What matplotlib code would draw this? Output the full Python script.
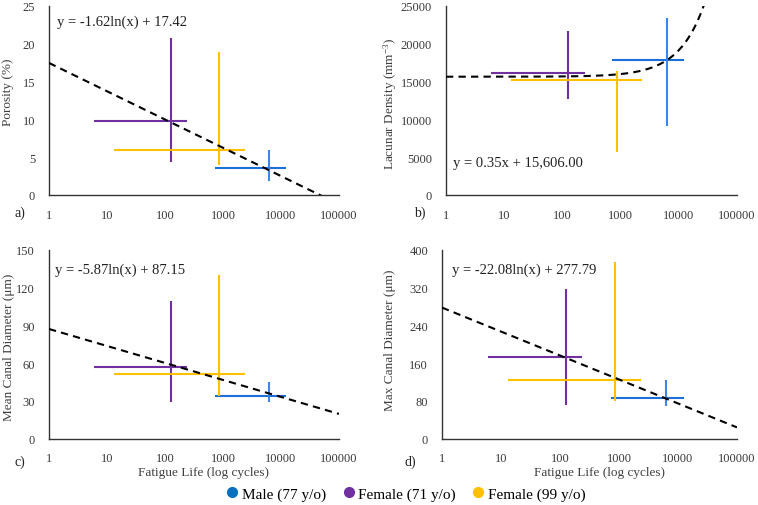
import numpy as np
import matplotlib
matplotlib.use("Agg")
import matplotlib.pyplot as plt
from matplotlib.lines import Line2D

plt.rcParams['font.family'] = ['Liberation Serif', 'DejaVu Serif']
plt.rcParams['mathtext.fontset'] = 'custom'
plt.rcParams['mathtext.rm'] = 'Liberation Serif'
plt.rcParams['mathtext.it'] = 'Liberation Serif:italic'
plt.rcParams['mathtext.default'] = 'regular'

# ---- data ----
groups = ["Male (77 y/o)", "Female (71 y/o)", "Female (99 y/o)"]
colors_h = ["#1A6FD9", "#7030A0", "#FFC000"]
colors_v = ["#3A86F0", "#7030A0", "#FFC000"]
legend_colors = ["#0070C0", "#7030A0", "#FFC000"]

# fatigue life (cycles): centre, lower end, upper end
life_center = [6300, 125, 870]
life_low = [720, 6, 13]
life_high = [12400, 240, 2350]

# panel a: porosity (%)
por_center = [3.5, 9.8, 5.9]
por_low = [1.9, 4.3, 3.9]
por_high = [6.0, 20.7, 18.9]

# panel b: lacunar density (mm^-3)
lac_center = [17870, 16150, 15230]
lac_low = [9150, 12680, 5720]
lac_high = [23340, 21570, 16420]

# panel c: mean canal diameter (um)
mcd_center = [33.9, 57.0, 51.2]
mcd_low = [29.2, 28.7, 33.9]
mcd_high = [44.6, 109.1, 130.1]

# panel d: max canal diameter (um)
xcd_center = [87.0, 173.9, 123.6]
xcd_low = [69.2, 71.3, 79.8]
xcd_high = [124.3, 318.0, 375.4]

# trendline coefficients (from the equations shown)
trend_a = (-1.62, 17.42)     # log
trend_b = (0.35, 15606.00)   # linear
trend_c = (-5.87, 87.15)     # log
trend_d = (-22.08, 277.79)   # log

eq_texts = ["y = -1.62ln(x) + 17.42", "y = 0.35x + 15,606.00",
            "y = -5.87ln(x) + 87.15", "y = -22.08ln(x) + 277.79"]
ylabels = ["Porosity (%)", "Lacunar Density (mm$^{-3}$)",
           "Mean Canal Diameter (\u03bcm)", "Max Canal Diameter (\u03bcm)"]
yticks_list = [[0, 5, 10, 15, 20, 25],
               [0, 5000, 10000, 15000, 20000, 25000],
               [0, 30, 60, 90, 120, 150],
               [0, 80, 160, 240, 320, 400]]
xticks = [1, 10, 100, 1000, 10000, 100000]
xticklabels = ["1", "10", "100", "1000", "10000", "100000"]
panel_letters = ["a)", "b)", "c)", "d)"]

W, H = 758, 506
fig = plt.figure(figsize=(W / 100, H / 100), dpi=100)

def rect(l, t, r, b):
    return [l / W, 1 - b / H, (r - l) / W, (b - t) / H]

rects = [rect(49, 6.5, 339, 196), rect(446, 6.5, 737, 196),
         rect(49, 251, 339, 439.5), rect(442, 251, 737, 439.5)]

ys = [(por_center, por_low, por_high), (lac_center, lac_low, lac_high),
      (mcd_center, mcd_low, mcd_high), (xcd_center, xcd_low, xcd_high)]
trends = [("log", trend_a), ("lin", trend_b), ("log", trend_c), ("log", trend_d)]
eq_pos = [(57, 22), (453, 163), (55, 270), (452, 270)]
ylab_pos = [(8, 92), (390, 104), (9, 347), (390, 340)]
letter_pos = [(20, 213), (420, 213), (20, 462), (410, 462)]

xs = np.logspace(0, 5, 400)
for i in range(4):
    ax = fig.add_axes(rects[i])
    yc, yl, yh = ys[i]
    for g in range(3):
        ax.plot([life_low[g], life_high[g]], [yc[g], yc[g]], color=colors_h[g],
                lw=1.5, solid_capstyle='butt', zorder=2)
        ax.plot([life_center[g], life_center[g]], [yl[g], yh[g]], color=colors_v[g],
                lw=1.5, solid_capstyle='butt', zorder=2)
    kind, (m, c) = trends[i]
    yt = m * np.log(xs) + c if kind == "log" else m * xs + c
    ax.plot(xs, yt, color='black', lw=1.5, linestyle=(0, (3.5, 2.5)), zorder=3)
    ax.set_xscale('log')
    ax.set_xlim(1, 100000)
    yt_ = yticks_list[i]
    ax.set_ylim(yt_[0], yt_[-1])
    ax.set_yticks(yt_)
    ax.set_yticklabels([str(v) for v in yt_])
    ax.set_xticks(xticks)
    ax.set_xticklabels(xticklabels)
    ax.minorticks_off()
    ax.tick_params(axis='both', length=0, labelsize=9, colors='#3a3a3a')
    ax.tick_params(axis='x', pad=10)
    ax.tick_params(axis='y', pad=10)
    for s in ['top', 'right']:
        ax.spines[s].set_visible(False)
    for s in ['left', 'bottom']:
        ax.spines[s].set_color('#333333')
        ax.spines[s].set_linewidth(1.0)
    fig.text(eq_pos[i][0] / W, 1 - eq_pos[i][1] / H, eq_texts[i], fontsize=10.5,
             ha='left', va='center', color='#222222')
    fig.text(ylab_pos[i][0] / W, 1 - ylab_pos[i][1] / H, ylabels[i], fontsize=9.5,
             rotation=90, ha='center', va='center', color='#404040')
    fig.text(letter_pos[i][0] / W, 1 - letter_pos[i][1] / H, panel_letters[i],
             fontsize=10, ha='center', va='center', color='#222222')

fig.text(203 / W, 1 - 473 / H, "Fatigue Life (log cycles)", fontsize=9.5,
         ha='center', va='center', color='#404040')
fig.text(600 / W, 1 - 473 / H, "Fatigue Life (log cycles)", fontsize=9.5,
         ha='center', va='center', color='#404040')

handles = [Line2D([], [], marker='o', linestyle='none', markersize=7,
                  markerfacecolor=c, markeredgecolor=c) for c in legend_colors]
fig.legend(handles, groups, loc='center', bbox_to_anchor=(405 / W, 1 - 495 / H),
           ncol=3, frameon=False, fontsize=11, handletextpad=0.1,
           columnspacing=1.0, handlelength=1.0)

fig.savefig("out.png", dpi=100)
